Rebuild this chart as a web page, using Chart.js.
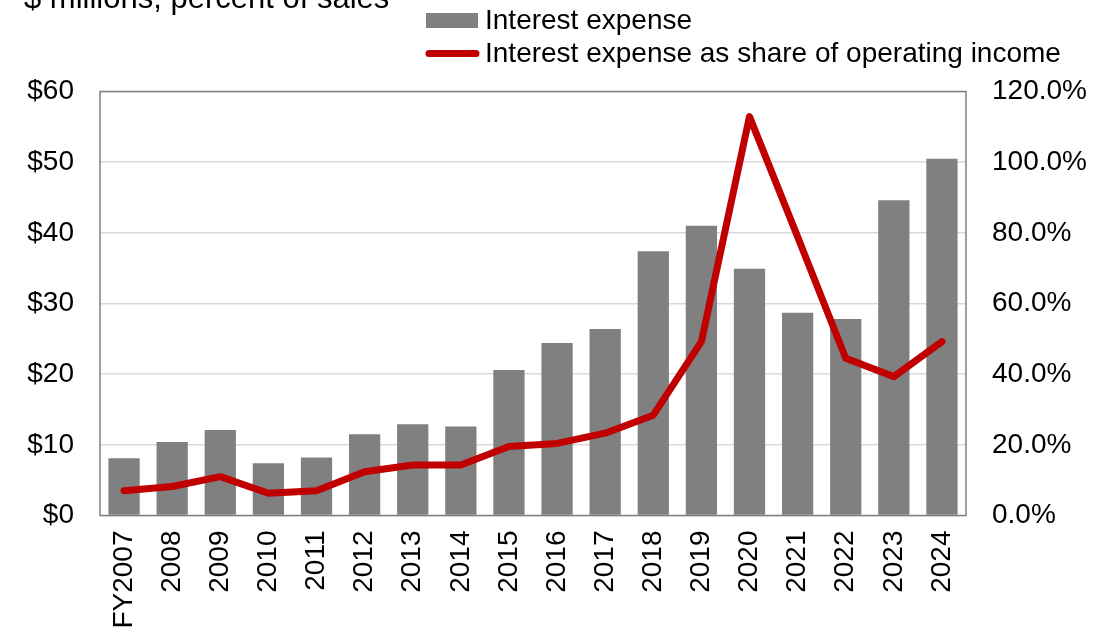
<!DOCTYPE html>
<html>
<head>
<meta charset="utf-8">
<script src="https://cdn.jsdelivr.net/npm/chart.js@4"></script>
<style>
  html, body { margin: 0; padding: 0; background: #fff; }
  canvas { display: block; }
</style>
</head>
<body>
<canvas id="grafico" width="1120" height="630"></canvas>
<script>
// datos
const anios = ['FY2007', '2008', '2009', '2010', '2011', '2012', '2013', '2014', '2015',
  '2016', '2017', '2018', '2019', '2020', '2021', '2022', '2023', '2024'];
const gastoIntereses = [8.1, 10.4, 12.1, 7.4, 8.2, 11.5, 12.9, 12.6, 20.6,
  24.4, 26.4, 37.4, 41.0, 34.9, 28.7, 27.8, 44.6, 50.5];
const pctIngresoOperativo = [7.0, 8.2, 11.0, 6.3, 7.0, 12.4, 14.3, 14.3, 19.5,
  20.4, 23.3, 28.4, 49.2, 112.9, 78.9, 44.5, 39.3, 49.2];
const ticksIzq = [0, 10, 20, 30, 40, 50, 60];
const ticksDer = [0, 20, 40, 60, 80, 100, 120];

const titulo = '$ millions, percent of sales';
const leyenda1 = 'Interest expense';
const leyenda2 = 'Interest expense as share of operating income';

const GRIS = '#808080';
const ROJO = '#c00000';
const FUENTE = '"Liberation Sans", Arial, sans-serif';

// ===============================
// Marco, título y leyenda
// ===============================
const extras = {
  id: 'extras',
  afterDatasetsDraw(chart) {
    const { ctx, chartArea: a } = chart;
    ctx.save();
    ctx.strokeStyle = GRIS;
    ctx.lineWidth = 1.5;
    ctx.strokeRect(a.left, a.top, a.right - a.left, a.bottom - a.top);
    ctx.restore();
  },
  afterDraw(chart) {
    const ctx = chart.ctx;
    ctx.save();
    ctx.fillStyle = '#000';
    ctx.textBaseline = 'alphabetic';
    ctx.font = '31px ' + FUENTE;
    ctx.fillText(titulo, 24, 8);

    // leyenda
    ctx.fillStyle = GRIS;
    ctx.fillRect(426, 13, 52, 15);
    ctx.strokeStyle = ROJO;
    ctx.lineWidth = 7;
    ctx.lineCap = 'round';
    ctx.beginPath();
    ctx.moveTo(429, 53.5);
    ctx.lineTo(476, 53.5);
    ctx.stroke();

    ctx.fillStyle = '#000';
    ctx.font = '28px ' + FUENTE;
    ctx.fillText(leyenda1, 485, 29);
    ctx.fillText(leyenda2, 485, 62);
    ctx.restore();
  }
};

new Chart(document.getElementById('grafico'), {
  type: 'bar',
  data: {
    labels: anios,
    datasets: [
      {
        type: 'line',
        label: leyenda2,
        data: pctIngresoOperativo,
        yAxisID: 'y1',
        borderColor: ROJO,
        borderWidth: 7,
        borderCapStyle: 'round',
        borderJoinStyle: 'round',
        pointRadius: 0,
        tension: 0,
        fill: false,
        order: 0
      },
      {
        label: leyenda1,
        data: gastoIntereses,
        yAxisID: 'y',
        backgroundColor: GRIS,
        barPercentage: 0.65,
        categoryPercentage: 1,
        order: 1
      }
    ]
  },
  options: {
    responsive: false,
    animation: false,
    layout: { padding: { top: 91.5, left: 0, right: 0, bottom: 0 } },
    plugins: {
      legend: { display: false },
      tooltip: { enabled: false }
    },
    scales: {
      x: {
        grid: { display: false, drawTicks: false },
        border: { display: false },
        ticks: {
          color: '#000',
          font: { size: 28, family: FUENTE },
          minRotation: 90,
          maxRotation: 90,
          padding: 15,
          autoSkip: false
        },
        afterFit(s) { s.height = 114.5; }
      },
      y: {
        position: 'left',
        min: 0,
        max: 60,
        afterBuildTicks(s) { s.ticks = ticksIzq.map(v => ({ value: v })); },
        grid: { color: '#d9d9d9', lineWidth: 1.5, drawTicks: false },
        border: { display: false },
        ticks: {
          color: '#000',
          font: { size: 28, family: FUENTE },
          padding: 26,
          callback: v => '$' + v
        },
        afterFit(s) { s.width = 100; }
      },
      y1: {
        position: 'right',
        min: 0,
        max: 120,
        afterBuildTicks(s) { s.ticks = ticksDer.map(v => ({ value: v })); },
        grid: { display: false, drawTicks: false },
        border: { display: false },
        ticks: {
          color: '#000',
          font: { size: 28, family: FUENTE },
          padding: 26,
          callback: v => v.toFixed(1) + '%'
        },
        afterFit(s) { s.width = 154; }
      }
    }
  },
  plugins: [extras]
});
</script>
</body>
</html>
